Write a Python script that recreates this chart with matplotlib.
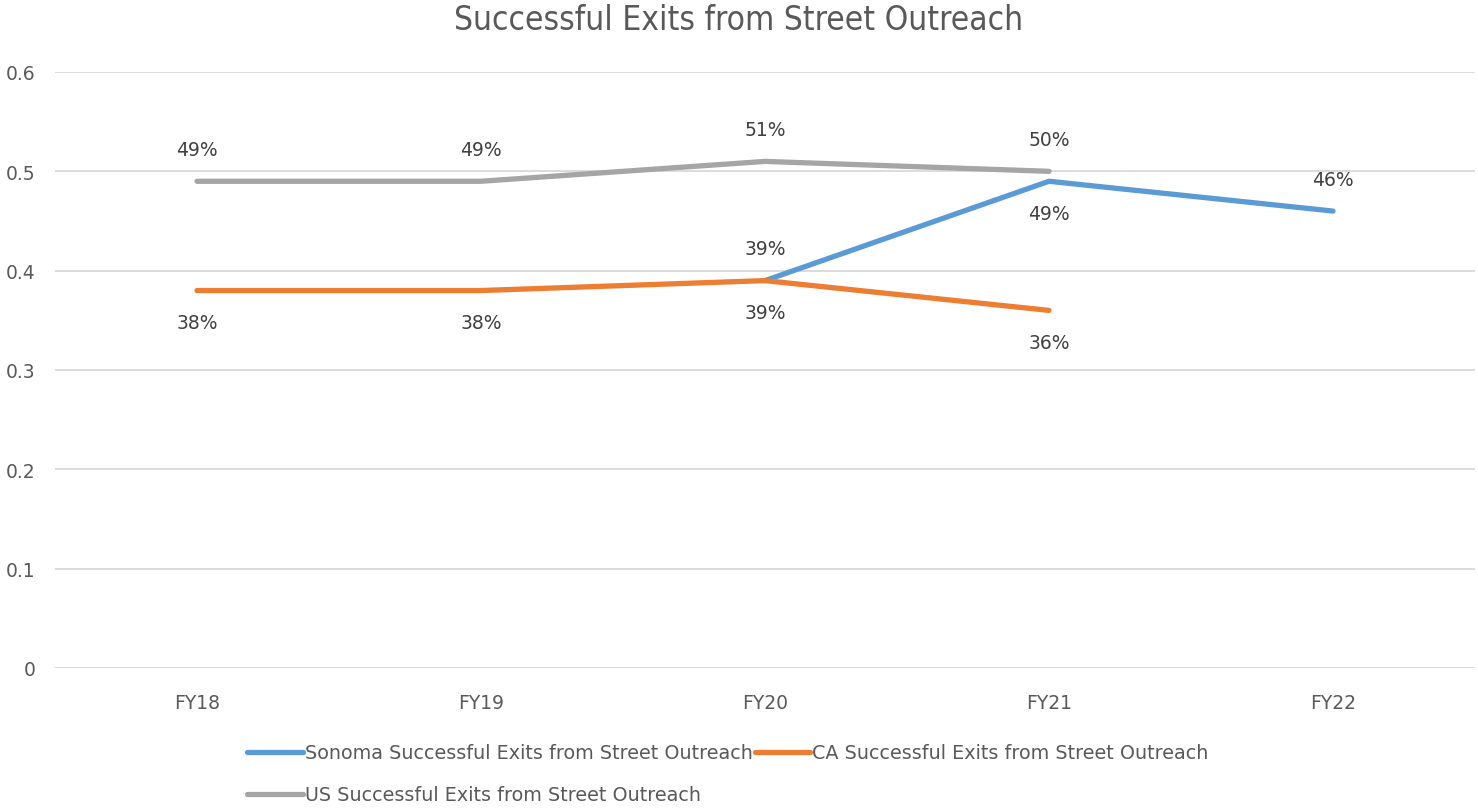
import numpy as np
import matplotlib.pyplot as plt

years = ["FY18", "FY19", "FY20", "FY21", "FY22"]
sonoma = [np.nan, np.nan, 0.39, 0.49, 0.46]
ca = [0.38, 0.38, 0.39, 0.36, np.nan]
us = [0.49, 0.49, 0.51, 0.50, np.nan]

# label placement per point: +1 above, -1 below
sonoma_pos = [0, 0, 1, -1, 1]
ca_pos = [-1, -1, -1, -1, 0]
us_pos = [1, 1, 1, 1, 0]

plt.rcParams["font.family"] = ["DejaVu Sans"]

fig = plt.figure(figsize=(14.78, 8.12), dpi=100)
ax = fig.add_axes([55 / 1478, 1 - 669 / 812, 1420 / 1478, (669 - 73) / 812])

x = np.arange(len(years))
series = [
    ("Sonoma Successful Exits from Street Outreach", sonoma, sonoma_pos, "#5B9BD5"),
    ("CA Successful Exits from Street Outreach", ca, ca_pos, "#ED7D31"),
    ("US Successful Exits from Street Outreach", us, us_pos, "#A5A5A5"),
]

handles = []
for label, vals, pos, col in series:
    h, = ax.plot(x, vals, color=col, lw=3.8, solid_capstyle="round", label=label, zorder=3)
    handles.append(h)
    for xi, v, p in zip(x, vals, pos):
        if np.isnan(v) or p == 0:
            continue
        ax.annotate(f"{v:.0%}", (xi, v), xytext=(0, 23 * p), textcoords="offset points",
                    ha="center", va="center", fontsize=13.5, color="#404040")

ax.set_xlim(-0.5, len(years) - 0.5)
ax.set_ylim(0, 0.6)
ax.set_yticks(np.arange(0, 0.61, 0.1))
ax.set_yticklabels(["0", "0.1", "0.2", "0.3", "0.4", "0.5", "0.6"])
ax.set_xticks(x)
ax.set_xticklabels(years)
ax.tick_params(length=0, labelsize=13.5, labelcolor="#595959")
ax.tick_params(axis="x", pad=18)
ax.tick_params(axis="y", pad=14)
ax.grid(axis="y", color="#D9D9D9", lw=1.3)
ax.set_axisbelow(True)
for s in ax.spines.values():
    s.set_visible(False)

fig.text(0.5, 1 - 20 / 812, "Successful Exits from Street Outreach", ha="center", va="center",
         fontsize=24, color="#595959", fontstretch="condensed")

# row-wise legend order: Sonoma, CA on row 1, US on row 2
order = [0, 2, 1]
fig.legend([handles[i] for i in order], [series[i][0] for i in order],
           loc="upper left", bbox_to_anchor=(230 / 1478, 1 - 727 / 812), ncol=2, frameon=False,
           fontsize=13.8, handlelength=2.9, handletextpad=0.1, columnspacing=0.1,
           labelspacing=1.2, labelcolor="#595959")

fig.savefig("out.png", dpi=100)
